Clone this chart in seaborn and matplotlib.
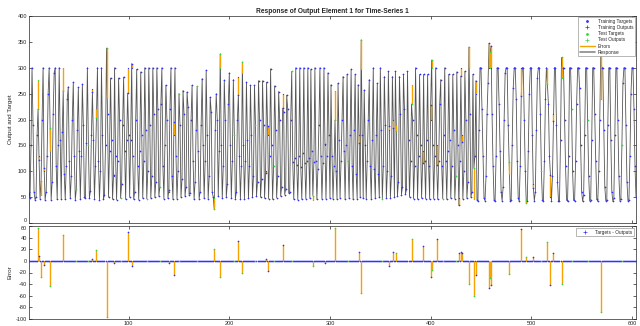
import numpy as np
import pandas as pd
import matplotlib
matplotlib.use("Agg")
import matplotlib.pyplot as plt
import seaborn as sns
from matplotlib.lines import Line2D

# ---------------- data ----------------
targets_a = [60, 48, 150, 300, 190, 60, 45, 50, 170, 276,
             130, 47, 55, 200, 300, 100, 45, 60, 130, 250,
             300, 140, 45, 80, 210, 290, 300, 110, 46, 150,
             300, 160, 47, 175, 300, 95, 46, 110, 240, 263,
             120, 48, 90, 200, 272, 130, 45, 65, 180, 262,
             140, 46, 130, 268, 190, 50, 48, 155, 300, 150,
             48, 62, 170, 258, 160, 47, 110, 220, 300, 120,
             45, 100, 300, 170, 46, 55, 150, 242, 210, 50,
             140, 280, 160, 46, 90, 300, 130, 45, 120, 280,
             200, 48, 75, 190, 282, 140, 46, 160, 300, 170]
targets_b = [50, 160, 300, 130, 46, 60, 200, 297, 110, 45,
             140, 292, 170, 48, 120, 300, 180, 47, 100, 300,
             190, 48, 90, 300, 210, 50, 80, 300, 220, 52,
             70, 230, 300, 110, 47, 150, 266, 200, 48, 60,
             220, 300, 90, 46, 170, 300, 130, 47, 100, 250,
             190, 50, 85, 256, 210, 52, 70, 253, 225, 55,
             58, 200, 266, 120, 46, 80, 180, 264, 140, 47,
             60, 190, 279, 150, 48, 120, 295, 170, 47, 90,
             243, 215, 60, 50, 48, 180, 250, 200, 52, 140,
             300, 150, 48, 110, 276, 200, 50, 75, 230, 290]
targets_c = [150, 48, 120, 277, 170, 47, 60, 200, 283, 130,
             46, 110, 290, 150, 47, 120, 272, 160, 48, 110,
             266, 170, 50, 90, 266, 190, 52, 80, 275, 200,
             50, 85, 275, 190, 48, 100, 272, 170, 47, 130,
             298, 150, 46, 110, 265, 180, 49, 90, 254, 200,
             52, 70, 250, 215, 55, 65, 247, 220, 58, 60,
             200, 293, 118, 46, 125, 300, 112, 45, 130, 300,
             108, 46, 135, 300, 115, 47, 120, 300, 125, 48,
             297, 140, 45, 118, 300, 120, 46, 105, 190, 300,
             130, 47, 115, 300, 150, 47, 130, 290, 170, 48]
targets_d = [267, 130, 47, 110, 255, 100, 46, 270, 160, 48,
             120, 200, 283, 140, 46, 150, 287, 120, 48, 170,
             297, 110, 46, 180, 287, 95, 47, 267, 170, 50,
             298, 170, 48, 257, 150, 47, 120, 200, 277, 110,
             46, 160, 300, 105, 48, 170, 270, 95, 50, 300,
             180, 47, 110, 283, 190, 48, 100, 293, 180, 49,
             90, 283, 200, 50, 293, 190, 52, 80, 283, 210,
             55, 70, 287, 220, 56, 65, 293, 160, 50, 120,
             267, 200, 47, 110, 300, 170, 46, 130, 287, 150,
             48, 140, 287, 120, 47, 160, 287, 110, 46, 200]
targets_e = [300, 150, 47, 130, 300, 150, 46, 120, 230, 277,
             110, 47, 170, 300, 120, 46, 140, 287, 160, 48,
             110, 287, 180, 47, 90, 292, 150, 48, 120, 300,
             170, 47, 100, 293, 200, 48, 80, 300, 210, 50,
             60, 287, 46, 130, 250]
targets_f = [45, 43, 180, 300, 300, 220, 130, 48, 43, 90,
             210, 270, 300, 300, 300, 210, 110, 44, 42, 130,
             300, 300, 230, 140, 60, 43, 70, 200, 290, 300,
             300, 190, 95, 43, 45, 150, 260, 300, 300, 240,
             120, 48, 42, 110, 300, 300, 300, 200, 100, 45,
             42, 140, 250, 300, 300, 170, 75, 43, 60, 180,
             280, 300, 300, 210, 100, 44, 42, 120, 240, 300,
             300, 230, 130, 50, 43, 90, 210, 300, 300, 190,
             80, 43, 42, 160, 280, 300, 300, 200, 110, 45,
             42, 130, 300, 300, 220, 100, 44, 43, 120, 230,
             300, 300, 260, 150, 60, 42, 55, 170, 300, 300,
             200, 90, 43, 45, 160, 300, 300, 210, 120, 46,
             42, 100, 200, 240, 300, 300, 180, 70, 43, 44,
             190, 300, 300, 160, 60, 42, 48, 170, 300, 300,
             200, 90, 43, 46, 150, 270, 300, 300, 190, 80,
             43, 45, 130, 250, 300, 300, 220, 110, 50]

# sample index and value of every visible error (target - output)
err_idx = [10, 11, 13, 16, 22, 35, 64, 68, 78, 85,
           99, 103, 140, 145, 185, 191, 209, 213, 236, 238,
           253, 283, 295, 305, 329, 331, 359, 363, 366, 381,
           392, 400, 401, 406, 428, 430, 431, 438, 443, 445,
           458, 459, 460, 478, 490, 495, 502, 516, 519, 522,
           530, 569]
err_val = [56, 9, -27, -7, -43, 44, 4, 18, -96, -3,
           49, -8, -4, -25, 21, -27, 35, -21, 4, -18,
           28, -8, -3, 56, 15, -56, -8, 16, 13, 37,
           25, -28, -15, 37, 14, 16, 13, -40, -60, -25,
           -47, -30, -42, -22, 54, 6, 7, 32, -42, 13,
           -40, -88]

# samples that belong to the test set
test_idx = [10, 13, 22, 35, 48, 60, 68, 78, 92, 118, 131, 150, 168, 185,
            191, 205, 213, 226, 244, 262, 283, 305, 318, 331, 352, 366,
            381, 401, 412, 425, 438, 443, 459, 478, 495, 510, 516, 530,
            540, 556, 569, 590]

title = "Response of Output Element 1 for Time-Series 1"
legend_top = ["Training Targets", "Training Outputs", "Test Targets",
              "Test Outputs", "Errors", "Response"]
legend_bottom = ["Targets - Outputs"]

# ---------------- assemble table ----------------
targets = np.array(targets_a + targets_b + targets_c + targets_d + targets_e + targets_f, float)
n = len(targets)
xs = np.arange(1, n + 1)
errors = np.zeros(n)
errors[np.array(err_idx) - 1] = err_val
outputs = targets - errors
is_test = np.isin(xs, test_idx)
df = pd.DataFrame({"x": xs, "target": targets, "output": outputs,
                   "error": errors, "test": is_test})
train = df[~df.test]
test = df[df.test]

# ---------------- style ----------------
sns.set_theme(style="white")
plt.rcParams["font.family"] = ["Liberation Sans", "DejaVu Sans"]
plt.rcParams["axes.unicode_minus"] = False

BLUE = "#3030ff"
GREEN = "#3fd23f"
ORANGE = "#f5a300"
RESP = "#555555"
AXC = "#262626"

fig = plt.figure(figsize=(6.4, 3.26), dpi=100)
fig.patch.set_facecolor("white")
W, H = 640, 326
ax1 = fig.add_axes([29 / W, 1 - 223 / H, 607 / W, 207 / H])
ax2 = fig.add_axes([29 / W, 1 - 319 / H, 607 / W, 93 / H])

# ---- top panel ----
sns.lineplot(data=df, x="x", y="output", ax=ax1, color=RESP, linewidth=0.6,
             estimator=None, sort=False, legend=False)
ax1.vlines(df.x, df.target, df.output, color=ORANGE, linewidth=1.0, zorder=3)
sns.scatterplot(data=train, x="x", y="target", ax=ax1, marker=".", color=BLUE,
                s=3, linewidth=0, zorder=4, legend=False)
sns.scatterplot(data=train, x="x", y="output", ax=ax1, marker="+", color=BLUE,
                s=4.5, linewidth=0.4, zorder=4, legend=False)
sns.scatterplot(data=test, x="x", y="target", ax=ax1, marker=".", color=GREEN,
                s=3, linewidth=0, zorder=5, legend=False)
sns.scatterplot(data=test, x="x", y="output", ax=ax1, marker="+", color=GREEN,
                s=4.5, linewidth=0.4, zorder=5, legend=False)
ax1.set_xlim(1, n)
ax1.set_ylim(0, 400)
ax1.set_yticks(np.arange(0, 401, 50))
ax1.set_xticks(np.arange(100, 601, 100))
ax1.set_xticklabels([])
ax1.set_xlabel("")
ax1.set_ylabel("Output and Target", fontsize=4.5, color=AXC)
ax1.yaxis.set_label_coords(-0.027, 0.5)
ax1.set_title(title, fontsize=4.8, fontweight="bold", color=AXC, pad=2)

h_top = [
    Line2D([], [], ls="", marker=".", color=BLUE, ms=2),
    Line2D([], [], ls="", marker="+", color=BLUE, ms=2.5, mew=0.5),
    Line2D([], [], ls="", marker=".", color=GREEN, ms=2),
    Line2D([], [], ls="", marker="+", color=GREEN, ms=2.5, mew=0.5),
    Line2D([], [], color=ORANGE, lw=1.0),
    Line2D([], [], color="#8a8a8a", lw=1.2),
]
leg1 = ax1.legend(h_top, legend_top, loc="upper right", fontsize=3.4,
                  frameon=True, fancybox=False, edgecolor="#9a9a9a",
                  framealpha=1, handlelength=3.2, handletextpad=0.6,
                  labelspacing=0.25, borderpad=0.35, borderaxespad=0.25)
leg1.get_frame().set_linewidth(0.5)

# ---- error panel ----
ax2.vlines(df.x, 0, df.error, color=ORANGE, linewidth=1.0, zorder=2)
sns.scatterplot(data=train, x="x", y="error", ax=ax2, marker="+", color=BLUE,
                s=4, linewidth=0.4, zorder=3, legend=False)
sns.scatterplot(data=test, x="x", y="error", ax=ax2, marker="+", color=GREEN,
                s=4, linewidth=0.4, zorder=3, legend=False)
ax2.set_xlim(1, n)
ax2.set_ylim(-100, 60)
ax2.set_yticks(np.arange(-100, 61, 20))
ax2.set_xticks(np.arange(100, 601, 100))
ax2.set_xlabel("")
ax2.set_ylabel("Error", fontsize=4.5, color=AXC)
ax2.yaxis.set_label_coords(-0.027, 0.5)
h_bot = [Line2D([], [], ls="", marker="+", color=BLUE, ms=2.5, mew=0.5)]
leg2 = ax2.legend(h_bot, legend_bottom, loc="upper right", fontsize=3.4,
                  frameon=True, fancybox=False, edgecolor="#9a9a9a",
                  framealpha=1, handlelength=3.2, handletextpad=0.6,
                  borderpad=0.3, borderaxespad=0.5)
leg2.get_frame().set_linewidth(0.5)

for ax in (ax1, ax2):
    ax.set_facecolor("white")
    for s in ax.spines.values():
        s.set_visible(True)
        s.set_color(AXC)
        s.set_linewidth(0.5)
    ax.tick_params(direction="in", length=2.5, width=0.5, top=True, right=True,
                   bottom=True, left=True, labelsize=4, pad=1.5, colors=AXC)

# keep the touching "0" (top panel) and "60" (error panel) labels apart
fig.canvas.draw()
ax1.get_yticklabels()[0].set_verticalalignment("bottom")
ax2.get_yticklabels()[-1].set_verticalalignment("top")

fig.savefig("out.png", dpi=100, facecolor="white")
